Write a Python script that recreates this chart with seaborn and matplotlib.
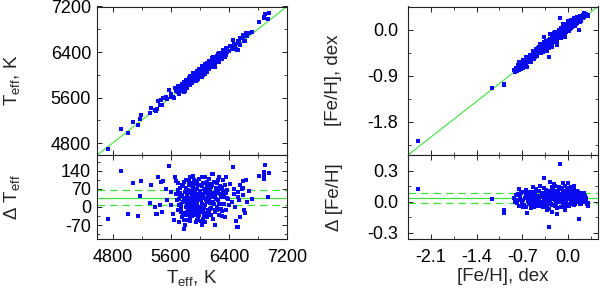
import numpy as np
import pandas as pd
import matplotlib
matplotlib.use("Agg")
import matplotlib.pyplot as plt
import seaborn as sns
from matplotlib.ticker import MultipleLocator, FixedLocator, FormatStrFormatter

# ---------------- data ----------------
teff_ref = [4735, 4910, 5006, 5075, 5144, 5190, 5181, 5315, 5324, 5388, 5393, 5425, 5416, 5452,
            5480, 5466, 5489, 5535, 5549, 5577, 5600, 5609, 5627, 5641, 5659, 5669, 5669, 5682,
            5696, 5705, 5714, 5719, 5733, 5742, 5751, 5760, 5774, 5788, 5790, 5797, 5806, 5820,
            5825, 5843, 5852, 5866, 5871, 5880, 5889, 5898, 5907, 5915, 5885, 5921, 5903, 5935,
            5880, 5949, 5958, 5981, 5995, 6004, 6013, 6027, 6041, 6050, 6059, 6073, 6087, 6096,
            6105, 6119, 6133, 6142, 6151, 6165, 6188, 6179, 6197, 6211, 6225, 6234, 6243, 6257,
            6270, 6280, 6289, 6303, 6316, 6326, 6335, 6344, 6349, 6362, 6372, 6381, 6408, 6454,
            6464, 6487, 6500, 6510, 6519, 6532, 6546, 6556, 6578, 6588, 6601, 6611, 6624, 6635,
            6656, 6808, 6877, 6877, 6900, 6886, 6956, 6942,
            5710, 5725, 5738, 5755, 5768, 5779, 5785, 5800, 5812, 5818, 5830, 5838, 5845, 5858,
            5862, 5875, 5884, 5893, 5900, 5910, 5918, 5926, 5930, 5940, 5945, 5952, 5962, 5968,
            5975, 5985, 5990, 5998, 6008, 6018, 6024, 6032, 6038, 6046, 6055, 6064, 6070, 6078,
            6084, 6092, 6100, 6110, 6115, 6126, 6138, 6146, 6158, 6170, 6183, 6192, 6205, 6215,
            6230, 6248, 6262, 6275, 6296, 6310, 6320, 6340, 6355, 6390, 6420, 6440, 6475, 6520,
            6560, 6600, 6680, 6720,
            5705, 5722, 5748, 5765, 5782, 5795, 5808, 5822, 5835, 5848, 5856, 5868, 5878, 5892,
            5905, 5922, 5933, 5943, 5955, 5966, 5972, 5983, 5994, 6002, 6015, 6022, 6035, 6044,
            6058, 6066, 6075, 6088, 6098, 6108, 6122, 6130, 6144, 6155, 6168, 6176, 6190, 6203,
            6218, 6240, 6255, 6268, 6285, 6300, 6330, 6360]
teff_delta = [-45, 140, -28, 91, -35, 100, 42, 17, 84, 0, -28, 114, -26, 8,
              -20, 97, 100, 69, 26, 159, 9, 59, -26, -52, 117, 102, 50, 26,
              65, 91, 7, -58, 42, -19, 85, -39, 20, -87, -71, 59, 0, 29,
              -49, 65, -32, 117, 13, 91, 39, -13, 120, 70, 55, 65, 25, 13,
              -19, -32, -52, 85, 26, 0, 52, -71, 91, -19, 33, 7, 65, -39,
              98, 20, 46, -6, 78, 128, 128, 39, 13, -71, 59, -13, 91, 26,
              117, 52, -6, 78, 13, 104, 39, 85, -39, 117, 33, 65, 7, 154,
              52, 0, -55, -78, -78, 59, 26, 85, 68, 72, 46, -13, -23, 104,
              20, 121, 137, 120, 163, 107, 133, 39,
              30, 75, -5, 48, -22, 95, 35, -30, 72, 10, 45, -12, 100, 20,
              -40, 60, -2, 80, 15, -25, 45, 105, -8, 55, 30, -60, 70, 5,
              40, -30, 110, 60, -15, 25, 80, 10, -45, 50, 70, -5, 115, 35,
              -25, 55, 20, -10, 75, 30, 90, 15, -30, 55, 20, 95, 40, -20,
              30, 55, -30, 80, 40, -35, 60, 10, 55, 30, 90, 20, 70, 40,
              -40, 100, 60, 30,
              -10, 55, 10, 80, -50, 25, 105, -20, 60, 5, 85, -55, 35, -35,
              75, 0, 90, -15, 20, 100, -40, 50, -5, 85, -55, 40, 115, 0,
              -30, 60, -60, 25, 80, 45, -25, 110, 60, -5, 85, -45, 50, -10,
              75, 0, 105, 10, 70, -15, 45, -10]

feh_ref = [-2.29, -1.16, -0.98, -0.98,
           -0.827, -0.812, -0.787, -0.761, -0.746, -0.736, -0.725, -0.695, -0.685, -0.674,
           -0.644, -0.633, -0.623, -0.608, -0.593, -0.583, -0.572, -0.557, -0.542, -0.531,
           -0.516, -0.506, -0.490, -0.480, -0.470, -0.455, -0.439, -0.429, -0.419, -0.404,
           -0.388, -0.378, -0.368, -0.363, -0.353, -0.337, -0.327, -0.317, -0.307, -0.296,
           -0.291, -0.286, -0.276, -0.266, -0.250, -0.240, -0.235, -0.225, -0.215, -0.204,
           -0.194, -0.184, -0.174, -0.164, -0.153, -0.143, -0.133, -0.123, -0.118, -0.112,
           -0.102, -0.092, -0.082, -0.072, -0.061, -0.051, -0.041, -0.031, -0.021, -0.010,
           0.000, 0.010, 0.020, 0.031, 0.041, 0.051, 0.061, 0.071, 0.082, 0.092,
           0.102, 0.112, 0.122, 0.133, 0.143, 0.158, 0.168, 0.173, 0.184, 0.209,
           0.225, 0.235, 0.260, 0.286, 0.311,
           -0.80, -0.77, -0.75, -0.72, -0.70, -0.66, -0.64, -0.60, -0.58, -0.55, -0.52, -0.50,
           -0.48, -0.46, -0.44, -0.42, -0.40, -0.38, -0.36, -0.34, -0.32, -0.30, -0.28, -0.27,
           -0.25, -0.23, -0.22, -0.20, -0.18, -0.17, -0.15, -0.14, -0.12, -0.11, -0.09, -0.08,
           -0.07, -0.05, -0.04, -0.03, -0.01, 0.00, 0.02, 0.03, 0.04, 0.05, 0.06, 0.07,
           0.08, 0.09, 0.10, 0.11, 0.12, 0.13, 0.14, 0.15, 0.16, 0.17, 0.18, 0.19,
           0.20, 0.21, 0.23, 0.24, 0.26, 0.28, 0.30,
           -0.79, -0.74, -0.69, -0.65, -0.61, -0.57, -0.53, -0.49, -0.45, -0.41, -0.37, -0.33,
           -0.31, -0.29, -0.26, -0.24, -0.21, -0.19, -0.16, -0.13, -0.10, -0.085, -0.06, -0.045,
           -0.02, 0.01, 0.025, 0.045, 0.065, 0.085, 0.105, 0.125, 0.145, 0.165, 0.195, 0.22,
           0.25, 0.27]
feh_delta = [0.12, 0.03, -0.08, -0.105,
             0.033, -0.005, -0.015, 0.074, 0.122, 0.026, -0.037, 0.020, 0.090, -0.031,
             -0.053, 0.058, -0.108, 0.011, -0.005, 0.090, 0.042, -0.021, 0.138, 0.026,
             -0.053, 0.074, 0.001, 0.058, -0.037, 0.026, 0.106, 0.154, -0.005, 0.042,
             -0.053, 0.074, 0.224, 0.011, -0.031, 0.058, -0.085, 0.097, -0.005, 0.090,
             -0.248, 0.026, 0.192, -0.021, 0.065, -0.101, 0.122, 0.026, 0.084, -0.037,
             0.154, 0.042, -0.117, 0.106, -0.005, 0.074, 0.138, 0.026, 0.361, -0.053,
             0.058, 0.122, -0.021, 0.180, 0.042, -0.085, 0.090, 0.011, 0.128, 0.058,
             0.176, -0.037, 0.106, 0.026, 0.074, -0.005, 0.042, 0.122, 0.011, 0.090,
             -0.021, 0.058, 0.026, -0.005, 0.074, 0.011, -0.165, 0.042, -0.021, 0.026,
             0.058, -0.005, 0.011, -0.021, -0.037,
             0.06, 0.02, -0.04, 0.08, 0.00, 0.04, 0.11, -0.02, 0.05, 0.02, 0.09, -0.03,
             0.03, 0.10, -0.01, 0.05, 0.08, 0.00, 0.13, 0.03, -0.04, 0.06, 0.01, 0.10,
             -0.03, 0.05, 0.17, 0.02, 0.08, -0.06, 0.04, 0.12, 0.00, 0.07, 0.03, -0.03,
             0.10, 0.05, 0.15, -0.01, 0.08, 0.03, 0.12, -0.02, 0.06, 0.14, 0.01, 0.08,
             0.04, 0.15, -0.03, 0.07, 0.10, 0.02, 0.05, 0.09, 0.00, 0.06, 0.03, 0.08,
             -0.02, 0.04, 0.07, 0.01, 0.05, 0.03, -0.01,
             0.01, 0.05, -0.05, 0.07, 0.03, -0.06, 0.06, 0.12, 0.04, -0.04, 0.07, 0.11,
             0.02, -0.07, 0.08, 0.14, 0.04, -0.02, 0.10, 0.05, 0.13, 0.01, 0.09, -0.05,
             0.06, 0.10, 0.04, 0.09, -0.01, 0.11, 0.05, 0.00, 0.10, 0.04, 0.06, 0.02,
             0.08, 0.04]

teff_mean, teff_sd = 36, 29
feh_mean, feh_sd = 0.035, 0.048

teff_lim = (4590, 7200)
dteff_lim = (-124, 201)
feh_lim = (-2.45, 0.46)
dfeh_lim = (-0.36, 0.45)

teff_ticks = [4800, 5600, 6400, 7200]
dteff_ticks = [-70, 0, 70, 140]
feh_xticks = [-2.1, -1.4, -0.7, 0.0]
feh_yticks = [-1.8, -0.9, 0.0]
dfeh_ticks = [-0.3, 0.0, 0.3]

# ---------------- style ----------------
sns.set_style("ticks")
plt.rcParams["font.family"] = ["Liberation Sans", "DejaVu Sans"]
plt.rcParams["mathtext.default"] = "regular"
plt.rcParams["axes.unicode_minus"] = False

FS = 13
LFS = 13.5
PT_COLOR = "#0a0af0"
LINE_COLOR = "#3ee03e"

df_t = pd.DataFrame({"ref": teff_ref, "delta": teff_delta})
df_t["this"] = df_t["ref"] + df_t["delta"]
df_f = pd.DataFrame({"ref": feh_ref, "delta": feh_delta})
df_f["this"] = df_f["ref"] + df_f["delta"]

fig = plt.figure(figsize=(6.0, 2.9), dpi=100)

W, H = 600.0, 290.0
def rect(x0, x1, y0, y1):
    return [x0 / W, 1 - y1 / H, (x1 - x0) / W, (y1 - y0) / H]

axT = fig.add_axes(rect(97.3, 287, 6.5, 155))
axDT = fig.add_axes(rect(97.3, 287, 155, 239))
axF = fig.add_axes(rect(408, 598, 6.5, 155))
axDF = fig.add_axes(rect(408, 598, 155, 239))

def style(ax, ypad):
    for s in ax.spines.values():
        s.set_linewidth(0.8)
        s.set_color("#222222")
    ax.tick_params(which="both", direction="in", top=True, right=True,
                   colors="#222222", labelcolor="black", labelsize=FS)
    ax.tick_params(which="major", length=3.5, width=0.7)
    ax.tick_params(which="minor", length=2.2, width=0.6)
    ax.tick_params(axis="x", pad=7.0)
    ax.tick_params(axis="y", pad=ypad)

MS = 5
DASH = (0, (6, 4))
# Teff top
sns.scatterplot(data=df_t, x="ref", y="this", ax=axT, marker="s", s=MS,
                color=PT_COLOR, linewidth=0, zorder=3)
axT.axline((teff_lim[0], teff_lim[0]), (teff_lim[1], teff_lim[1]),
           color=LINE_COLOR, lw=0.8, zorder=2)
axT.set_xlim(teff_lim); axT.set_ylim(teff_lim)
axT.xaxis.set_major_locator(FixedLocator(teff_ticks))
axT.xaxis.set_minor_locator(MultipleLocator(400))
axT.yaxis.set_major_locator(FixedLocator(teff_ticks))
axT.yaxis.set_minor_locator(MultipleLocator(400))
axT.tick_params(labelbottom=False)
axT.set_xlabel("")
axT.set_ylabel("T$_{eff}$, K", fontsize=LFS)

# Teff delta
sns.scatterplot(data=df_t, x="ref", y="delta", ax=axDT, marker="s", s=MS,
                color=PT_COLOR, linewidth=0, zorder=3)
axDT.axhline(teff_mean, color=LINE_COLOR, lw=0.9, zorder=2)
axDT.axhline(teff_mean + teff_sd, color=LINE_COLOR, lw=0.9, ls=DASH, zorder=2)
axDT.axhline(teff_mean - teff_sd, color=LINE_COLOR, lw=0.9, ls=DASH, zorder=2)
axDT.set_xlim(teff_lim); axDT.set_ylim(dteff_lim)
axDT.xaxis.set_major_locator(FixedLocator(teff_ticks))
axDT.xaxis.set_minor_locator(MultipleLocator(400))
axDT.yaxis.set_major_locator(FixedLocator(dteff_ticks))
axDT.yaxis.set_minor_locator(MultipleLocator(35))
axDT.set_xlabel("T$_{eff}$, K", fontsize=LFS, labelpad=1.5)
axDT.set_ylabel("Δ T$_{eff}$", fontsize=LFS)

# FeH top
sns.scatterplot(data=df_f, x="ref", y="this", ax=axF, marker="s", s=MS,
                color=PT_COLOR, linewidth=0, zorder=3)
axF.axline((feh_lim[0], feh_lim[0]), (feh_lim[1], feh_lim[1]),
           color=LINE_COLOR, lw=0.8, zorder=2)
axF.set_xlim(feh_lim); axF.set_ylim(feh_lim)
axF.xaxis.set_major_locator(FixedLocator(feh_xticks))
axF.xaxis.set_minor_locator(MultipleLocator(0.35))
axF.yaxis.set_major_locator(FixedLocator(feh_yticks))
axF.yaxis.set_minor_locator(MultipleLocator(0.45))
axF.yaxis.set_major_formatter(FormatStrFormatter("%.1f"))
axF.tick_params(labelbottom=False)
axF.set_xlabel("")
axF.set_ylabel("[Fe/H], dex", fontsize=LFS)

# FeH delta
sns.scatterplot(data=df_f, x="ref", y="delta", ax=axDF, marker="s", s=MS,
                color=PT_COLOR, linewidth=0, zorder=3)
axDF.axhline(feh_mean, color=LINE_COLOR, lw=0.9, zorder=2)
axDF.axhline(feh_mean + feh_sd, color=LINE_COLOR, lw=0.9, ls=DASH, zorder=2)
axDF.axhline(feh_mean - feh_sd, color=LINE_COLOR, lw=0.9, ls=DASH, zorder=2)
axDF.set_xlim(feh_lim); axDF.set_ylim(dfeh_lim)
axDF.xaxis.set_major_locator(FixedLocator(feh_xticks))
axDF.xaxis.set_minor_locator(MultipleLocator(0.35))
axDF.xaxis.set_major_formatter(FormatStrFormatter("%.1f"))
axDF.yaxis.set_major_locator(FixedLocator(dfeh_ticks))
axDF.yaxis.set_minor_locator(MultipleLocator(0.15))
axDF.yaxis.set_major_formatter(FormatStrFormatter("%.1f"))
axDF.set_xlabel("[Fe/H], dex", fontsize=LFS, labelpad=1.5)
axDF.set_ylabel("Δ [Fe/H]", fontsize=LFS)

style(axT, 4.5); style(axDT, 4.5); style(axF, 7.0); style(axDF, 7.0)

axT.yaxis.set_label_coords(-0.395, 0.5)
axDT.yaxis.set_label_coords(-0.395, 0.5)
axF.yaxis.set_label_coords(-0.345, 0.5)
axDF.yaxis.set_label_coords(-0.34, 0.5)

fig.savefig("out.png", dpi=100)
